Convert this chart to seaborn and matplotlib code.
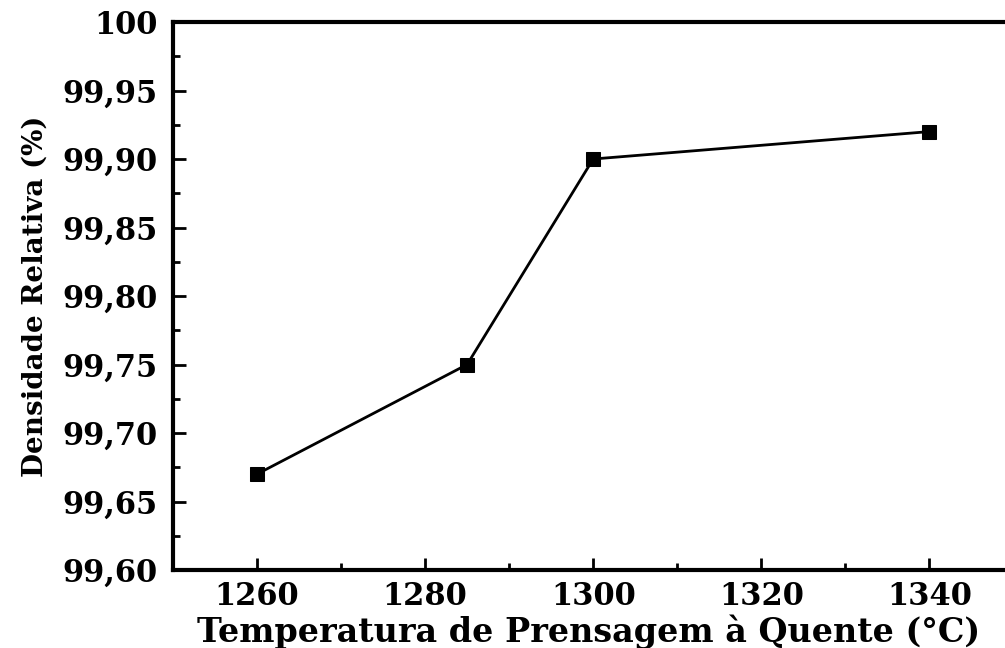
import matplotlib
matplotlib.use("Agg")
import matplotlib.pyplot as plt
import seaborn as sns
import pandas as pd
from matplotlib.ticker import MultipleLocator, FixedLocator

temperatura = [1260, 1285, 1300, 1340]
densidade = [99.67, 99.75, 99.90, 99.92]
yticks = [99.60, 99.65, 99.70, 99.75, 99.80, 99.85, 99.90, 99.95, 100.0]
ytick_labels = ["99,60", "99,65", "99,70", "99,75", "99,80", "99,85", "99,90", "99,95", "100"]
xticks = [1260, 1280, 1300, 1320, 1340]
xlabel = "Temperatura de Prensagem à Quente (°C)"
ylabel = "Densidade Relativa (%)"

sns.set_style("ticks")
plt.rcParams['font.family'] = ['DejaVu Serif']
plt.rcParams['font.weight'] = 'bold'
for k in ['text.color', 'axes.labelcolor', 'xtick.color', 'ytick.color']:
    plt.rcParams[k] = 'black'

df = pd.DataFrame({"T": temperatura, "D": densidade})

fig = plt.figure(figsize=(10.05, 6.48), dpi=100)
W, H = 1005, 648
ax = fig.add_axes([173 / W, 1 - 570 / H, (1005 - 173) / W, (570 - 22) / H])

sns.lineplot(data=df, x="T", y="D", ax=ax, color="black", linewidth=2,
             marker="s", markersize=10, markeredgecolor="black",
             markerfacecolor="black")

ax.set_xlim(1250, 1349)
ax.set_ylim(99.60, 100.0)
ax.xaxis.set_major_locator(FixedLocator(xticks))
ax.xaxis.set_minor_locator(MultipleLocator(10))
ax.yaxis.set_major_locator(FixedLocator(yticks))
ax.yaxis.set_minor_locator(MultipleLocator(0.025))
ax.set_yticklabels(ytick_labels)
ax.set_xticklabels([str(v) for v in xticks])

ax.tick_params(axis="both", which="major", direction="in", length=9, width=2,
               labelsize=22, colors="black")
ax.tick_params(axis="y", which="major", pad=11)
ax.tick_params(axis="x", which="major", pad=8)
ax.tick_params(axis="both", which="minor", direction="in", length=5, width=2,
               colors="black")
for lab in ax.get_xticklabels() + ax.get_yticklabels():
    lab.set_fontweight("bold")

for s in ["left", "bottom", "top"]:
    ax.spines[s].set_linewidth(3)
    ax.spines[s].set_color("black")
ax.spines["right"].set_visible(False)

ax.set_xlabel(xlabel, fontsize=24, fontweight="bold", labelpad=2)
ax.set_ylabel(ylabel, fontsize=20, fontweight="bold", labelpad=10)

fig.savefig("out.png", dpi=100)
